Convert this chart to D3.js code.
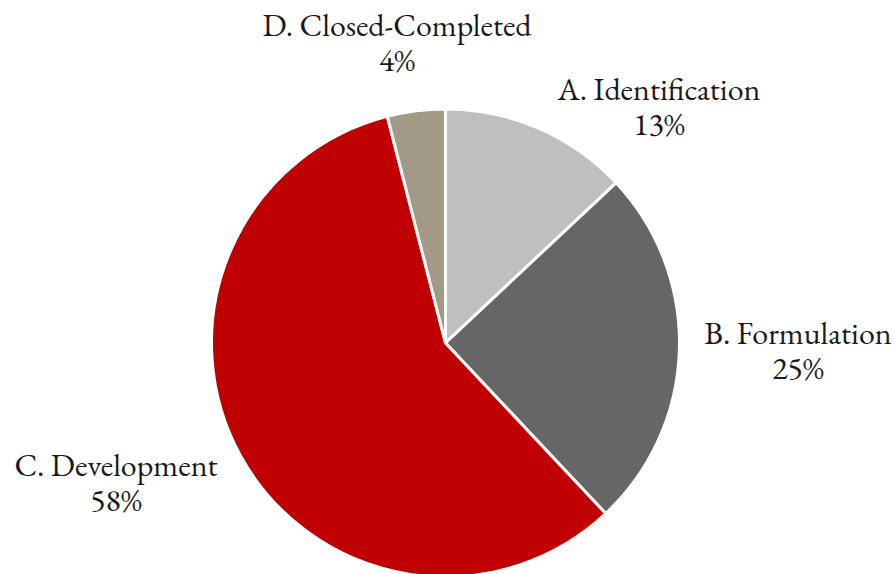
<!DOCTYPE html>
<html lang="en">
<head>
<meta charset="utf-8">
<script src="https://d3js.org/d3.v7.min.js"></script>
<style>
  body { margin: 0; background: #fff; }
  text { font-family: "EB Garamond", Garamond, "Liberation Serif", serif; fill: #1a1a1a; }
</style>
</head>
<body>
<script>
// Chart data
var categories = ["A. Identification", "B. Formulation", "C. Development", "D. Closed-Completed"];
var shares = [13, 25, 58, 4];
var colors = ["#bfbfbf", "#666666", "#c00000", "#a29a87"];

var w = 894, h = 574;
var cx = 445.5, cy = 343, r = 234;

var svg = d3.select("body").append("svg")
  .attr("width", w)
  .attr("height", h);

// pie starts at 12 o'clock, goes clockwise, keeps data order
var pie = d3.pie().sort(null).value(function(d) { return d; });
var arc = d3.arc().innerRadius(0).outerRadius(r);

var arcs = pie(shares);

var g = svg.append("g").attr("transform", "translate(" + cx + "," + cy + ")");

g.selectAll("path")
  .data(arcs)
  .enter().append("path")
  .attr("d", arc)
  .attr("fill", function(d, i) { return colors[i]; })
  .attr("stroke", "#fff")
  .attr("stroke-width", 3)
  .attr("stroke-linejoin", "round");

// label anchor points (centre x, baseline of first line), placed outside the pie
var labelPos = [[659, 100], [798, 344], [116, 476], [397, 36]];

var labels = svg.selectAll("text.lab")
  .data(arcs)
  .enter().append("text")
  .attr("class", "lab")
  .attr("text-anchor", "middle")
  .attr("font-size", 32);

labels.append("tspan")
  .attr("x", function(d, i) { return labelPos[i][0]; })
  .attr("y", function(d, i) { return labelPos[i][1]; })
  .text(function(d, i) { return categories[i]; });

labels.append("tspan")
  .attr("x", function(d, i) { return labelPos[i][0]; })
  .attr("y", function(d, i) { return labelPos[i][1] + 35; })
  .text(function(d) { return d3.format(".0%")(d.value / 100); });
</script>
</body>
</html>
